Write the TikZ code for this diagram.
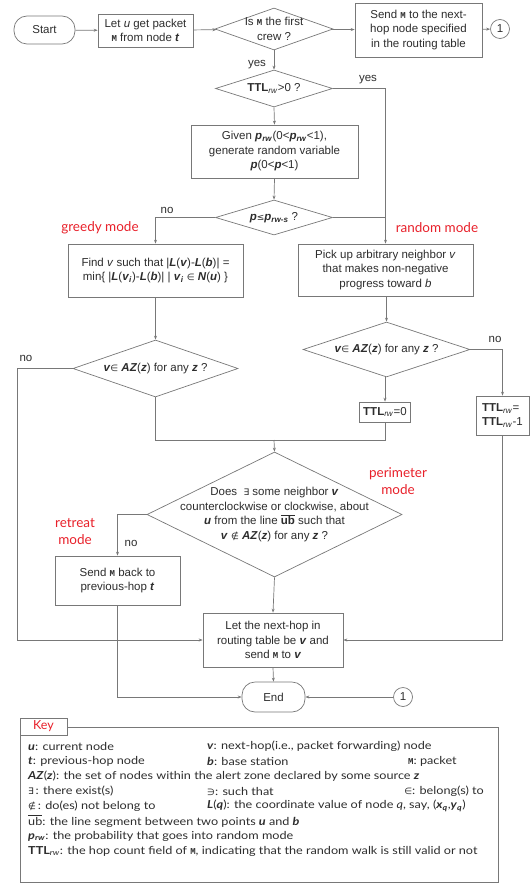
\documentclass[tikz,border=0pt]{standalone}
\usepackage{fontspec}
\setmainfont{Liberation Sans}
\newfontfamily\keyfont[FakeStretch=1.15]{Lato}
\newfontfamily\redfont{Lato}
\newfontfamily\symf{DejaVu Sans}
\newfontfamily\monof{Liberation Mono}
\usetikzlibrary{shapes.geometric,arrows.meta}
\definecolor{linegray}{RGB}{120,120,120}
\definecolor{txtgray}{RGB}{45,45,45}
\definecolor{modered}{RGB}{232,32,42}
\newcommand\bi[1]{\textbf{\textit{#1}}}
\newcommand\Mp{{\monof\bfseries\small M}}
\newcommand\In{{\symf\small ∈}}
\newcommand\NotIn{{\symf\small ∉}}
\newcommand\Ex{{\symf\small ∃}}
\newcommand\Ni{{\symf\small ∋}}
\newcommand\Le{{\symf\small ≤}}
\newcommand\TTLrw{\textbf{TTL}\textsubscript{\textit{rw}}}
\newcommand\prw{\bi{p}\textsubscript{\bi{rw}}}
\tikzset{
  every node/.style={text=txtgray, font=\fontsize{11.5}{14.5}\selectfont},
  box/.style={draw=linegray, line width=0.7pt, fill=white, align=center, inner sep=1pt},
  dia/.style={draw=linegray, line width=0.7pt, diamond, inner sep=0pt, fill=white},
  term/.style={draw=linegray, line width=0.7pt, rounded corners=13pt, align=center},
  conn/.style={draw=linegray, line width=0.7pt, circle, inner sep=0pt, minimum size=19pt},
  ln/.style={draw=linegray, line width=0.7pt},
  arr/.style={ln, -{Stealth[length=4pt,width=3pt]}},
  lab/.style={font=\fontsize{11.5}{13}\selectfont},
  red/.style={text=modered, font=\redfont\fontsize{13.5}{17}\selectfont, align=center},
  keyt/.style={anchor=west, inner sep=0pt, font=\keyfont\fontsize{11}{12}\selectfont}
}
\begin{document}
\begin{tikzpicture}[x=1pt,y=-1pt]
\useasboundingbox (0,0) rectangle (530,885);
% top row
\node[term, minimum width=61pt, minimum height=28pt] (start) at (44.5,30) {Start};
\node[box, minimum width=95pt, minimum height=33pt] (let) at (145.5,30.5) {Let \textit{u} get packet\\ \Mp{} from node \bi{t}};
\node[dia, minimum width=118pt, minimum height=42pt] (d1) at (274,29) {};
\node[align=center] at (d1) {Is \Mp{} the first\\crew ?};
\node[box, minimum width=127pt, minimum height=54pt] (send) at (418.5,30) {Send \Mp{} to the next-\\hop node specified\\in the routing table};
\node[conn] (c1) at (500,29) {1};
% TTL check
\node[dia, minimum width=117pt, minimum height=37pt] (d2) at (274,88.5) {};
\node at (d2) {\TTLrw>0 ?};
\node[box, minimum width=167pt, minimum height=53pt] (given) at (274.5,151.5) {Given \prw(0<\prw<1),\\generate random variable\\\bi{p}(0<\bi{p}<1)};
\node[dia, minimum width=117pt, minimum height=35pt] (d3) at (274,217.5) {};
\node at (d3) {\bi{p}\Le\bi{p}\textsubscript{\bi{rw-s}} ?};
\node[box, minimum width=175pt, minimum height=53pt] (greedy) at (155.5,270.5) {Find \textit{v} such that |\bi{L}(\bi{v})-\bi{L}(\bi{b})| =\\min\{ |\bi{L}(\bi{v}\textsubscript{\bi{i}})-\bi{L}(\bi{b})| | \bi{v}\textsubscript{\bi{i}} \In{} \bi{N}(\bi{u}) \}};
\node[box, minimum width=175pt, minimum height=52pt] (rand) at (385.5,270) {Pick up arbitrary neighbor \textit{v}\\that makes non-negative\\progress toward \textit{b}};
\node[dia, minimum width=165pt, minimum height=57pt] (d4) at (155.5,368.5) {};
\node at (d4) {\bi{v}\In{} \bi{AZ}(\bi{z}) for any \bi{z} ?};
\node[dia, minimum width=167pt, minimum height=55pt] (d5) at (386.5,349.5) {};
\node at (d5) {\bi{v}\In{} \bi{AZ}(\bi{z}) for any \bi{z} ?};
\node[box, minimum width=51pt, minimum height=20pt] (ttl0) at (385,412) {\TTLrw=0};
\node[box, align=left, minimum width=53pt, minimum height=39pt] (ttl1) at (502.5,415.5) {\TTLrw =\\\TTLrw-1};
\coordinate (j1) at (274,440);
\node[dia, minimum width=255pt, minimum height=125pt] (d6) at (274.5,514.5) {};
\node[align=center] at (d6) {Does \ \Ex{} some neighbor \bi{v}\\counterclockwise or clockwise, about\\\bi{u} from the line $\overline{\hbox{\bfseries ub}}$ such that\\\bi{v} \NotIn{} \bi{AZ}(\bi{z}) for any \bi{z} ?};
\node[box, minimum width=125pt, minimum height=49pt] (retreat) at (117.5,580.5) {Send \Mp{} back to\\previous-hop \bi{t}};
\node[box, minimum width=140pt, minimum height=54pt] (next) at (273,640) {Let the next-hop in\\routing table be \bi{v} and\\send \Mp{} to \bi{v}};
\node[term, minimum width=63pt, minimum height=30pt] (end) at (273.5,697) {End};
\node[conn] (c2) at (403,697) {1};
% connectors
\draw[arr] (start) -- (let);
\draw[arr] (let) -- (d1);
\draw[arr] (d1) -- (send);
\draw[arr] (send) -- (c1);
\draw[arr] (d1.south) -- (d2.north);
\draw[arr] (d2.east) -| (rand.north);
\draw[arr] (d2.south) -- (given.north);
\draw[arr] (given.south) -- (d3.north);
\draw[arr] (d3.west) -| (greedy.north);
\draw[ln] (d3.east) -- (d3.east -| rand.north);
\draw[arr] (greedy.south) -- (d4.north);
\draw[arr] (rand.south -| d5.north) -- (d5.north);
\draw[arr] (d4.west) -- (17,368.5) |- (next.west);
\draw[arr] (d5.east) -| (ttl1.north);
\draw[arr] (d5.south -| ttl0.north) -- (ttl0.north);
\draw[ln] (d4.south) |- (j1);
\draw[ln] (ttl0.south) |- (j1);
\draw[arr] (j1) -- (d6.north);
\draw[arr] (d6.west) -| (retreat.north);
\draw[arr] (d6.south) -- (next.north);
\draw[arr] (retreat.south) |- (end.west);
\draw[arr] (ttl1.south) |- (next.east);
\draw[arr] (next.south) -- (end.north);
\draw[arr] (c2) -- (end);
% branch labels
\node[lab] at (257,65) {yes};
\node[lab] at (368,80) {yes};
\node[lab] at (167,210) {no};
\node[lab] at (26,358) {no};
\node[lab] at (495,339) {no};
\node[lab] at (131,543) {no};
% mode labels
\node[red] at (100,228) {greedy mode};
\node[red] at (437,228) {random mode};
\node[red] at (398,481) {perimeter\\mode};
\node[red] at (75,532) {retreat\\mode};
% key
\draw[ln, line width=0.6pt] (20,727) rectangle (498,882);
\node[draw=linegray, line width=0.6pt, fill=white, minimum width=47pt, minimum height=17pt, inner sep=0pt, text=modered, font=\redfont\fontsize{12.5}{14}\selectfont] (key) at (43.5,726.5) {Key};
\node[keyt] at (28,746) {\bi{u}: current node};
\node[keyt] at (207,746) {\bi{v}: next-hop(i.e., packet forwarding) node};
\node[keyt] at (28,761) {\bi{t}: previous-hop node};
\node[keyt] at (207,761) {\bi{b}: base station};
\node[keyt] at (408,761) {\Mp: packet};
\node[keyt] at (28,776) {\bi{AZ}(\bi{z}): the set of nodes within the alert zone declared by some source \bi{z}};
\node[keyt] at (28,791) {\Ex\,: there exist(s)};
\node[keyt] at (207,791) {\Ni: such that};
\node[keyt, anchor=east] at (484,791) {\In: belong(s) to};
\node[keyt] at (28,806) {\NotIn\,: do(es) not belong to};
\node[keyt] at (207,806) {\bi{L}(\bi{q}): the coordinate value of node \textit{q}, say, (\bi{x}\textsubscript{\bi{q}},\bi{y}\textsubscript{\bi{q}})};
\node[keyt] at (28,821) {$\overline{\hbox{ub}}$: the line segment between two points \bi{u} and \bi{b}};
\node[keyt] at (28,836) {\bi{p}\textsubscript{\bi{rw}}: the probability that goes into random mode};
\node[keyt] at (28,851) {\textbf{TTL}\textsubscript{\textit{rw}}: the hop count field of \Mp, indicating that the random walk is still valid or not};
\end{tikzpicture}
\end{document}
